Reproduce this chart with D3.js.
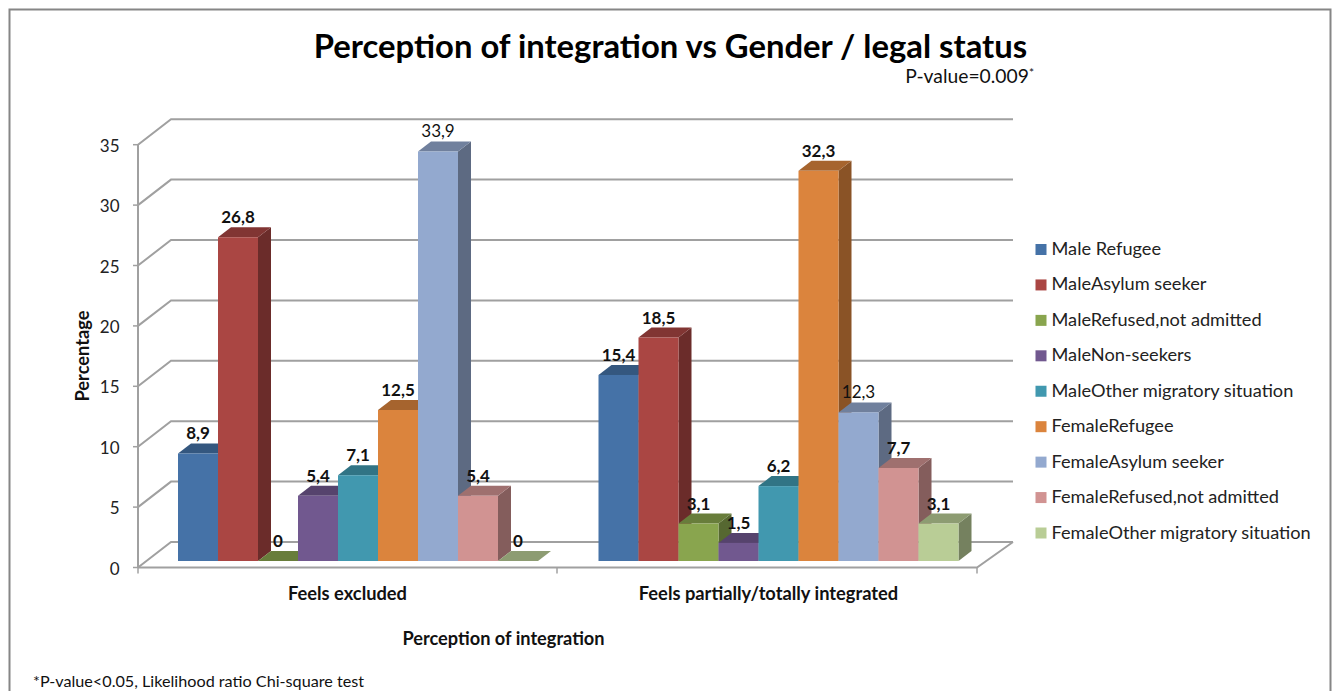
<!DOCTYPE html>
<html><head><meta charset="utf-8">
<script src="https://cdn.jsdelivr.net/npm/d3@7"></script>
<style>html,body{margin:0;padding:0;background:#fff;overflow:hidden}svg{display:block}text{font-family:Lato,"Open Sans",sans-serif;fill:#111}</style>
</head><body><svg id="c" width="1336" height="691"></svg>
<script>
const titleText="Perception of integration vs Gender / legal status";
const pValue="P-value=0.009";
const footnote="*P-value<0.05, Likelihood ratio Chi-square test";
const xTitle="Perception of integration";
const yTitle="Percentage";
const categories=["Feels excluded","Feels partially/totally integrated"];
const seriesNames=["Male Refugee","MaleAsylum seeker","MaleRefused,not admitted","MaleNon-seekers","MaleOther migratory situation","FemaleRefugee","FemaleAsylum seeker","FemaleRefused,not admitted","FemaleOther migratory situation"];
const colors=["#4572a7","#aa4643","#89a54e","#71588f","#4198af","#db843d","#93a9cf","#d19392","#b9cd96"];
const excluded=[8.9,26.8,0,5.4,7.1,12.5,33.9,5.4,0];
const integrated=[15.4,18.5,3.1,1.5,6.2,32.3,12.3,7.7,3.1];
const valueLabels=[["8,9","26,8","0","5,4","7,1","12,5","33,9","5,4","0"],["15,4","18,5","3,1","1,5","6,2","32,3","12,3","7,7","3,1"]];
const yTicks=[0,5,10,15,20,25,30,35];
const seriesByCat=[excluded,integrated];

const svg=d3.select("#c");
svg.append("path").attr("d","M9.5,700V9.5H1330.5V700").attr("fill","#fff").attr("stroke","#868686").attr("stroke-width",2);

const gridCol="#a0a0a0";
const W={dx:33,dy:-25.5};
const y=d3.scaleLinear().domain([0,35]).range([567.5,144.7]);
const x0=d3.scaleBand().domain(categories).range([138,977]);
const D={dx:13,dy:-10};
const barBaseOffset=-6.5;
const scaleRgb=(c,k)=>{const r=d3.rgb(c);return d3.rgb(r.r*k,r.g*k,r.b*k).formatHex();};

yTicks.forEach(t=>{
  const p=y(t);
  svg.append("path").attr("d",`M138,${p}L${138+W.dx},${p+W.dy}H1013`).attr("fill","none").attr("stroke",gridCol).attr("stroke-width",2);
  svg.append("line").attr("x1",133).attr("x2",138).attr("y1",p).attr("y2",p).attr("stroke",gridCol).attr("stroke-width",1.5);
  svg.append("text").attr("x",119.5).attr("y",p+7).attr("text-anchor","end").attr("font-size",17).style("fill","#222").text(t);
});
svg.append("line").attr("x1",138).attr("x2",138).attr("y1",y(35)).attr("y2",y(0)).attr("stroke",gridCol).attr("stroke-width",2);
svg.append("path").attr("d",`M138,${y(0)}H977L1013,${y(0)+W.dy}`).attr("fill","none").attr("stroke",gridCol).attr("stroke-width",2);
[138,557,977].forEach(v=>svg.append("line").attr("x1",v).attr("x2",v).attr("y1",y(0)).attr("y2",y(0)+6).attr("stroke",gridCol).attr("stroke-width",1.5));

const bandFor=(cat,ci)=>d3.scaleBand().domain(seriesNames).range([x0(cat)+(ci?41:40),x0(cat)+(ci?41:40)+360]);
categories.forEach((cat,ci)=>{
  const xs=bandFor(cat,ci);
  seriesByCat[ci].forEach((v,i)=>{
    const L=xs(seriesNames[i]),w=xs.bandwidth(),R=L+w,b=y(0)+barBaseOffset,t=y(v)+barBaseOffset;
    const g=svg.append("g");
    g.append("path").attr("d",`M${R},${t}l${D.dx},${D.dy}V${b+D.dy}L${R},${b}Z`).attr("fill",scaleRgb(colors[i],0.63));
    g.append("path").attr("d",`M${L},${t}l${D.dx},${D.dy}H${R+D.dx}L${R},${t}Z`).attr("fill",scaleRgb(colors[i],0.76));
    g.append("rect").attr("x",L).attr("y",t).attr("width",w).attr("height",b-t).attr("fill",colors[i]);
  });
});
categories.forEach((cat,ci)=>{
  const xs=bandFor(cat,ci);
  seriesByCat[ci].forEach((v,i)=>{
    const cx=xs(seriesNames[i])+xs.bandwidth()/2, t=y(v)+barBaseOffset+D.dy;
    const plain=i===6;
    svg.append("text").attr("x",cx).attr("y",t-4).attr("text-anchor","middle").attr("font-size",17).attr("font-weight",plain?400:700).text(valueLabels[ci][i]);
  });
  svg.append("text").attr("x",ci?768.5:347.5).attr("y",600).attr("text-anchor","middle").attr("font-size",18.3).attr("font-weight",700).text(cat);
});
svg.append("text").attr("x",670.5).attr("y",58).attr("text-anchor","middle").attr("font-size",32.8).attr("font-weight",700).style("fill","#000").text(titleText);
const pv=svg.append("text").attr("x",1034).attr("y",83).attr("text-anchor","end").attr("font-size",19.3);
pv.append("tspan").text(pValue);pv.append("tspan").attr("font-size",12).attr("dy",-6).text("*");
svg.append("text").attr("x",503.5).attr("y",644.5).attr("text-anchor","middle").attr("font-size",18.2).attr("font-weight",700).text(xTitle);
svg.append("text").attr("transform","translate(89,356) rotate(-90)").attr("text-anchor","middle").attr("font-size",18.3).attr("font-weight",700).text(yTitle);
svg.append("text").attr("x",33).attr("y",687).attr("font-size",16.2).text(footnote);
const ly=d3.scalePoint().domain(seriesNames).range([249.5,533]);
seriesNames.forEach((s,i)=>{
  svg.append("rect").attr("x",1035.5).attr("y",ly(s)-5.5).attr("width",11).attr("height",11).attr("fill",colors[i]);
  svg.append("text").attr("x",1051.5).attr("y",ly(s)+5.5).attr("font-size",18.2).style("fill","#222").text(s);
});
</script></body></html>
